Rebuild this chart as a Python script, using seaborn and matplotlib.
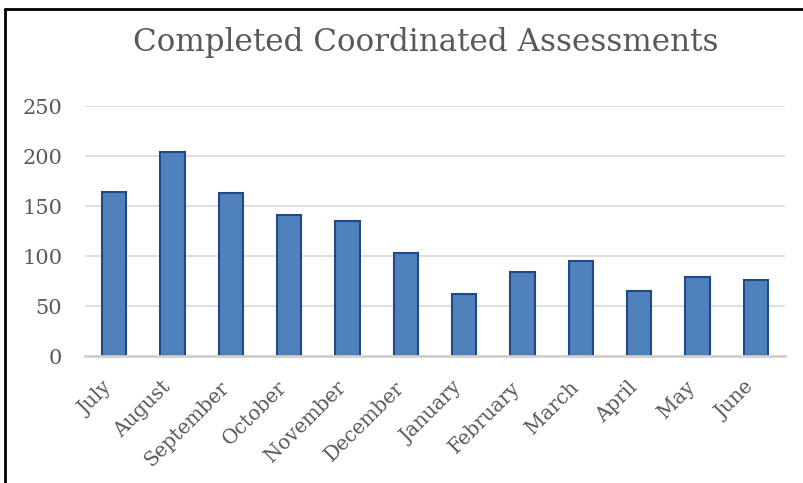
import matplotlib
matplotlib.use("Agg")
import matplotlib.pyplot as plt
import matplotlib.transforms as mtransforms
import seaborn as sns
import pandas as pd
from matplotlib.lines import Line2D

months = ["July", "August", "September", "October", "November", "December",
          "January", "February", "March", "April", "May", "June"]
values = [164, 204, 163, 141, 135, 103, 62, 84, 95, 65, 79, 76]
yticks = [0, 50, 100, 150, 200, 250]
title = "Completed Coordinated Assessments"

sns.set_theme(style="white")
plt.rcParams['font.family'] = ['DejaVu Serif']

df = pd.DataFrame({"month": months, "value": values})

W, H = 804, 483
fig = plt.figure(figsize=(W / 100, H / 100), dpi=100)
ax = fig.add_axes([85 / W, (H - 356) / H, 700 / W, 250 / H])

sns.barplot(data=df, x="month", y="value", ax=ax, color="#4F81BD",
            width=0.42, edgecolor="#1F4A85", linewidth=1.5, saturation=1)

ax.set_ylim(0, 250)
ax.set_yticks(yticks)
ax.set_xlim(-0.5, len(months) - 0.5)
ax.yaxis.grid(True, color="#d9d9d9", linewidth=1.2)
ax.set_axisbelow(True)
for s in ["top", "right", "left"]:
    ax.spines[s].set_visible(False)
ax.spines["bottom"].set_color("#d0d0d0")
ax.spines["bottom"].set_linewidth(2)
ax.set_xlabel("")
ax.set_ylabel("")
ax.tick_params(axis="y", length=0, pad=16.5, labelsize=15, labelcolor="#595959")
ax.tick_params(axis="x", length=0, pad=20.5, labelsize=14.3, labelcolor="#595959")
offset = mtransforms.ScaledTranslation(-5 / 100, 0, fig.dpi_scale_trans)
for lbl in ax.get_xticklabels():
    lbl.set_rotation(45)
    lbl.set_ha("right")
    lbl.set_va("center")
    lbl.set_rotation_mode("anchor")
    lbl.set_transform(lbl.get_transform() + offset)

fig.text(0.529, 1 - 42 / H, title, ha="center", va="center",
         fontsize=22.3, color="#595959")

fig.add_artist(Line2D([5 / W, 5 / W], [0, 1 - 9 / H], color="black", linewidth=2))
fig.add_artist(Line2D([5 / W, 1], [1 - 9 / H, 1 - 9 / H], color="black", linewidth=2))

fig.savefig("out.png", dpi=100)
